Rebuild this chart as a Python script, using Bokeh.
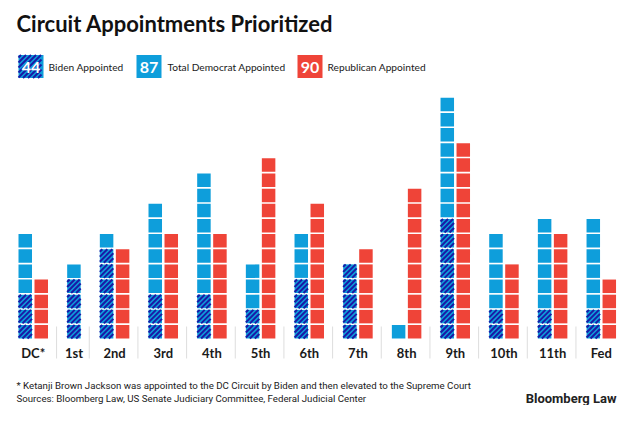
from bokeh.plotting import figure
from bokeh.models import Range1d
from bokeh.core.properties import value
from bokeh.embed import file_html
from bokeh.resources import INLINE

# ---- data ----
circuits = ["DC*", "1st", "2nd", "3rd", "4th", "5th", "6th", "7th", "8th", "9th", "10th", "11th", "Fed"]
democrat = [7, 5, 7, 9, 11, 5, 7, 5, 1, 16, 7, 8, 8]
biden = [3, 4, 6, 3, 3, 2, 4, 5, 0, 8, 2, 2, 2]
republican = [4, 0, 6, 7, 7, 12, 9, 6, 10, 13, 5, 7, 4]
legend_numbers = ["44", "87", "90"]
legend_labels = ["Biden Appointed", "Total Democrat Appointed", "Republican Appointed"]
title = "Circuit Appointments Prioritized"
note = "* Ketanji Brown Jackson was appointed to the DC Circuit by Biden and then elevated to the Supreme Court"
sources = "Sources: Bloomberg Law, US Senate Judiciary Committee, Federal Judicial Center"
brand = "Bloomberg Law"

BLUE = "#0e9edb"
RED = "#ef4438"
NAVY = "#1a1aa6"
TXT = "#1a1a1a"

W, H = 617, 405
p = figure(width=W, height=H, output_backend="svg", toolbar_location=None,
           x_range=Range1d(0, W), y_range=Range1d(H, 0),
           min_border=0)
p.axis.visible = False
p.grid.visible = False
p.outline_line_color = None
p.background_fill_color = "white"
p.border_fill_color = "white"

# ---- layout constants ----
SQ = 13.5
PX = 16.0
PY = 15.15
GAP = 16.67
BASE = 338.0
x0 = 18.0
STEP = 5.0  # stripe step along the diagonal


def stripes(xl, yt, s, sx0, sy0, sx1, sy1):
    t = STEP / 2
    while t < 2 * s:
        if t <= s:
            sx0.append(xl); sy0.append(yt + t); sx1.append(xl + t); sy1.append(yt)
        else:
            sx0.append(xl + t - s); sy0.append(yt + s); sx1.append(xl + s); sy1.append(yt + t - s)
        t += STEP


bx, by, rx, ry = [], [], [], []
sx0, sy0, sx1, sy1 = [], [], [], []
lab_x, sep_x = [], []
start = x0
for i, c in enumerate(circuits):
    ncols = 2 if republican[i] > 0 else 1
    cx_b = start + SQ / 2
    for k in range(democrat[i]):
        yc = BASE - k * PY - SQ / 2
        bx.append(cx_b); by.append(yc)
        if k < biden[i]:
            stripes(start, yc - SQ / 2, SQ, sx0, sy0, sx1, sy1)
    cx_r = start + PX + SQ / 2
    for k in range(republican[i]):
        rx.append(cx_r); ry.append(BASE - k * PY - SQ / 2)
    right = start + (ncols - 1) * PX + SQ
    lab_x.append((start + right) / 2)
    nxt = start + ncols * PX + GAP
    if i < len(circuits) - 1:
        sep_x.append((right + nxt) / 2 - 1)
    start = nxt

# legend boxes
box_x = [30.5, 148.5, 309.5]
lab_lx = [48, 167, 327]
BW, BH, BY = 25, 23, 66
stripes(box_x[0] - BW / 2, BY - BH / 2, BH, sx0, sy0, sx1, sy1)

p.rect(x=bx, y=by, width=SQ, height=SQ, fill_color=BLUE, line_color=None)
p.rect(x=rx, y=ry, width=SQ, height=SQ, fill_color=RED, line_color=None)
p.rect(x=box_x, y=[BY] * 3, width=[BW, BW, BW], height=BH,
       fill_color=[BLUE, BLUE, RED], line_color=None)
p.segment(x0=sx0, y0=sy0, x1=sx1, y1=sy1, line_color=NAVY, line_width=2.0, line_cap="butt")

p.segment(x0=sep_x, y0=[326] * len(sep_x), x1=sep_x, y1=[358] * len(sep_x),
          line_color="#dddddd", line_width=1)

p.text(x=lab_x, y=[352] * len(lab_x), text=circuits, text_align="center",
       text_baseline="middle", text_font=value("Lato"), text_font_style="bold",
       text_font_size="13px", text_color=TXT)

# title
p.text(x=[16], y=[23], text=[title], text_baseline="middle", text_font=value("Lato"),
       text_font_style="bold", text_font_size="22px", text_color="#111111")

# legend text
p.text(x=box_x, y=[BY + 0.5] * 3, text=legend_numbers, text_align="center", text_baseline="middle",
       text_font=value("Lato"), text_font_style="bold", text_font_size="16px", text_color="white")
p.text(x=lab_lx, y=[BY] * 3, text=legend_labels, text_baseline="middle",
       text_font=value("Lato"), text_font_size="10.2px", text_color=TXT)

# footer
p.text(x=[16, 16], y=[385, 398], text=[note, sources], text_baseline="middle",
       text_font=value("Roboto"), text_font_size="9.7px", text_color=TXT)
p.text(x=[616], y=[398], text=[brand], text_align="right", text_baseline="middle",
       text_font=value("Roboto"), text_font_style="bold", text_font_size="13px", text_color="#222222")

open("out.html", "w").write(file_html(p, INLINE))
